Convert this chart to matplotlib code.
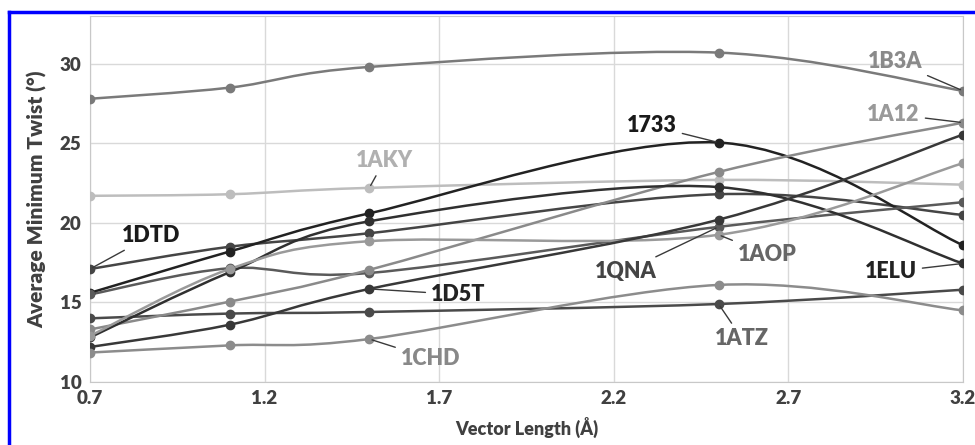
import numpy as np
import matplotlib.pyplot as plt
from matplotlib.path import Path
from matplotlib.patches import PathPatch
from matplotlib.lines import Line2D

plt.rcParams['font.family'] = ['Lato', 'DejaVu Sans']

x = [0.7, 1.1, 1.5, 2.5, 3.2]

names = ['1B3A', '1AKY', '1DTD', '1733', '1QNA', '1ATZ',
         '1A12', '1ELU', '1AOP', '1D5T', '1CHD']
twist = {
    '1B3A': [27.8, 28.5, 29.8, 30.7, 28.3],
    '1AKY': [21.7, 21.8, 22.2, 22.7, 22.4],
    '1DTD': [17.1, 18.5, 19.35, 21.8, 20.5],
    '1733': [15.6, 18.2, 20.6, 25.05, 18.6],
    '1QNA': [15.5, 17.15, 16.85, 19.75, 21.3],
    '1ATZ': [14.0, 14.3, 14.4, 14.9, 15.8],
    '1A12': [13.3, 15.05, 17.05, 23.2, 26.3],
    '1ELU': [12.8, 16.9, 20.1, 22.25, 17.45],
    '1AOP': [12.9, 17.1, 18.85, 19.25, 23.75],
    '1D5T': [12.2, 13.6, 15.85, 20.2, 25.55],
    '1CHD': [11.85, 12.3, 12.7, 16.1, 14.5],
}

line_col = {'1B3A': '#7a7a7a', '1AKY': '#bdbdbd', '1DTD': '#454545',
            '1733': '#222222', '1QNA': '#5a5a5a', '1ATZ': '#4a4a4a',
            '1A12': '#8a8a8a', '1ELU': '#303030', '1AOP': '#9a9a9a',
            '1D5T': '#383838', '1CHD': '#8c8c8c'}
text_col = {'1B3A': '#8a8a8a', '1AKY': '#b0b0b0', '1DTD': '#1a1a1a',
            '1733': '#1a1a1a', '1QNA': '#444444', '1ATZ': '#666666',
            '1A12': '#999999', '1ELU': '#222222', '1AOP': '#666666',
            '1D5T': '#222222', '1CHD': '#888888'}
# label offsets in points from the labelled point
lab = {'1DTD': (0, 44, 24), '1AKY': (2, 11, 20), '1D5T': (2, 64, -4),
       '1CHD': (2, 44, -14), '1733': (3, -48, 12), '1QNA': (3, -67, -32),
       '1AOP': (3, 35, -14), '1ATZ': (3, 17, -25), '1ELU': (4, -52, -6),
       '1B3A': (4, -49, 21), '1A12': (4, -50, 6)}


def smooth_path(xs, ys):
    # excel-like smoothed line: cubic bezier through the points
    p = np.column_stack([xs, ys])
    verts = [p[0]]
    codes = [Path.MOVETO]
    n = len(p)
    for i in range(n - 1):
        p0 = p[i - 1] if i > 0 else p[i]
        p3 = p[i + 2] if i + 2 < n else p[i + 1]
        c1 = p[i] + (p[i + 1] - p0) / 6
        c2 = p[i + 1] - (p3 - p[i]) / 6
        verts += [c1, c2, p[i + 1]]
        codes += [Path.CURVE4] * 3
    return Path(verts, codes)


fig = plt.figure(figsize=(9.75, 4.45), dpi=100)
ax = fig.add_axes([0.0923, 0.1416, 0.8954, 0.8224])

for nm in names:
    ys = twist[nm]
    ax.add_patch(PathPatch(smooth_path(x, ys), fill=False,
                           edgecolor=line_col[nm], lw=1.8, zorder=3))
    ax.plot(x, ys, 'o', color=line_col[nm], markersize=6, zorder=4)

for nm, (i, dx, dy) in lab.items():
    ax.annotate(nm, xy=(x[i], twist[nm][i]), xytext=(dx, dy),
                textcoords='offset points', ha='center', va='center',
                fontsize=15.5, fontweight='heavy', color=text_col[nm],
                arrowprops=dict(arrowstyle='-', color='#3a3a3a', lw=1,
                                shrinkA=2, shrinkB=2), zorder=5)

ax.set_xlim(0.7, 3.2)
ax.set_ylim(10, 33)
ax.set_xticks([0.7, 1.2, 1.7, 2.2, 2.7, 3.2])
ax.set_xticklabels(['0.7', '1.2', '1.7', '2.2', '2.7', '3.2'])
ax.set_yticks([10, 15, 20, 25, 30])
ax.grid(True, color='#d9d9d9', lw=1)
ax.set_axisbelow(True)
for s in ax.spines.values():
    s.set_color('#c8c8c8')
ax.tick_params(length=0, labelsize=13.5, labelcolor='#404040', pad=6)
for t in ax.get_xticklabels() + ax.get_yticklabels():
    t.set_fontweight('heavy')

ax.set_xlabel('Vector Length (Å)', fontsize=13, fontweight='heavy',
              color='#404040', labelpad=7)
ax.set_ylabel('Average Minimum Twist (°)', fontsize=15, fontweight='heavy',
              color='#404040', labelpad=9)

# blue frame
fig.add_artist(Line2D([9 / 975, 9 / 975], [0, 1 - 12 / 445],
                      color='blue', lw=2.5, transform=fig.transFigure))
fig.add_artist(Line2D([9 / 975, 1], [1 - 12 / 445, 1 - 12 / 445],
                      color='blue', lw=2.5, transform=fig.transFigure))

fig.savefig('out.png', dpi=100)
